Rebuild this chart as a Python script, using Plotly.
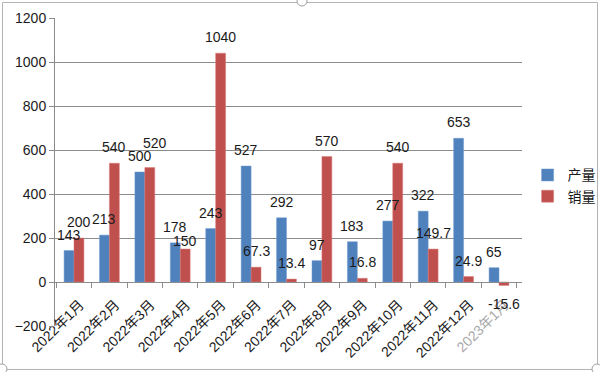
import plotly.graph_objects as go

categories = ["2022年1月", "2022年2月", "2022年3月", "2022年4月", "2022年5月", "2022年6月",
              "2022年7月", "2022年8月", "2022年9月", "2022年10月", "2022年11月", "2022年12月", "2023年1月"]
production = [143, 213, 500, 178, 243, 527, 292, 97, 183, 277, 322, 653, 65]
sales = [200, 540, 520, 150, 1040, 67.3, 13.4, 570, 16.8, 540, 149.7, 24.9, -15.6]
prod_labels = ["143", "213", "500", "178", "243", "527", "292", "97", "183", "277", "322", "653", "65"]
sales_labels = ["200", "540", "520", "150", "1040", "67.3", "13.4", "570", "16.8", "540", "149.7", "24.9", "-15.6"]
series_names = ["产量", "销量"]

BLUE = "#4F81BD"
RED = "#C0504D"
GRID = "#8C8C8C"
FONT = "Liberation Sans, Noto Sans CJK SC, sans-serif"

fig = go.Figure()
fig.add_trace(go.Bar(x=categories, y=production, name=series_names[0],
                     marker=dict(color=BLUE, line=dict(color="#6F9BD1", width=0.5))))
fig.add_trace(go.Bar(x=categories, y=sales, name=series_names[1],
                     marker=dict(color=RED, line=dict(color="#D87A78", width=0.5))))

# label placement nudges (series index, category index) -> (dx, dy) in pixels
nudges = {(1, 3): (0, 8), (1, 2): (5, 25)}

annotations = []
for i, c in enumerate(categories):
    for s, (vals, labs, dx) in enumerate(((production, prod_labels, -5), (sales, sales_labels, 5))):
        v = vals[i]
        dy = 16 if v >= 0 else -19
        ndx, ndy = nudges.get((s, i), (0, dy))
        annotations.append(dict(x=c, y=v, xref="x", yref="y", text=labs[i], showarrow=False,
                                xshift=dx + ndx, yshift=ndy, yanchor="middle",
                                font=dict(family=FONT, size=14, color="#1a1a1a")))

ticktext = [c if c != "2023年1月" else "<span style='color:#A8A8A8'>" + c + "</span>" for c in categories]

fig.update_layout(
    width=600, height=372,
    margin=dict(l=55, r=78, t=18, b=46, autoexpand=False),
    paper_bgcolor="white", plot_bgcolor="white",
    barmode="group", bargap=0.44, bargroupgap=0,
    font=dict(family=FONT, size=14, color="#1a1a1a"),
    showlegend=True,
    legend=dict(x=1.012, y=0.455, xanchor="left", yanchor="middle",
                font=dict(size=14, family="Noto Sans CJK SC"), tracegroupgap=0,
                itemwidth=30, bgcolor="rgba(0,0,0,0)"),
    annotations=annotations,
    xaxis=dict(type="category", anchor="free", position=200 / 1400, automargin=False,
               showline=True, linecolor=GRID, linewidth=1,
               ticks="outside", tickson="boundaries", ticklen=5, tickcolor=GRID,
               tickangle=-45, showgrid=False, ticklabelshift=6, ticklabelstandoff=8,
               tickmode="array", tickvals=categories, ticktext=ticktext,
               tickfont=dict(size=14, color="#1a1a1a")),
    yaxis=dict(range=[-200, 1200], dtick=200, showgrid=True, gridcolor=GRID, gridwidth=1,
               automargin=False,
               showline=True, linecolor=GRID, ticks="outside", ticklen=5, tickcolor=GRID,
               zeroline=False, tickfont=dict(size=14, color="#1a1a1a")),
)

# chart-area border and selection handles (paper coordinates)
def px_x(p):
    return (p - 55) / 467

def px_y(p):
    return (326 - p) / 308

fig.add_shape(type="rect", xref="paper", yref="paper",
              x0=px_x(2.5), x1=px_x(597.5), y0=px_y(369.5), y1=px_y(2.5),
              line=dict(color="#B4B4B4", width=1), layer="below")
for cx, cy in ((302, 1), (2, 369), (597, 369)):
    fig.add_shape(type="circle", xref="paper", yref="paper",
                  x0=px_x(cx - 5), x1=px_x(cx + 5), y0=px_y(cy + 5), y1=px_y(cy - 5),
                  line=dict(color="#A0A0A0", width=1), fillcolor="white")

fig.write_html("out.html", config={"displayModeBar": False},
               post_script="document.body.style.margin='0';document.body.style.overflow='hidden';")
